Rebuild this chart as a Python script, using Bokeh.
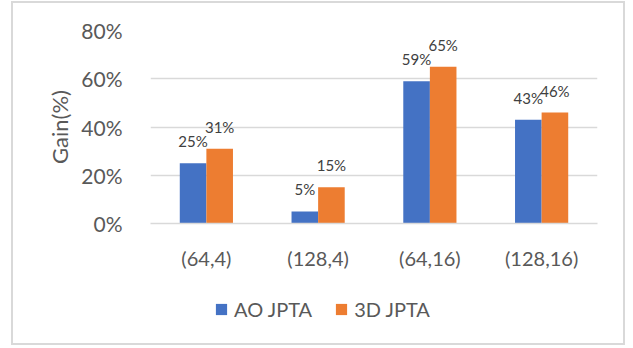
from bokeh.plotting import figure
from bokeh.layouts import column
from bokeh.models import (ColumnDataSource, FactorRange, LabelSet, Legend, LegendItem,
                          PrintfTickFormatter, FixedTicker)
from bokeh.core.properties import value
from bokeh.transform import dodge
from bokeh.embed import file_html
from bokeh.resources import INLINE

categories = ["(64,4)", "(128,4)", "(64,16)", "(128,16)"]
ao_jpta = [25, 5, 59, 43]
jpta_3d = [31, 15, 65, 46]
y_ticks = [0, 20, 40, 60, 80]
series_names = ["AO JPTA", "3D JPTA"]

FONT = "Lato"
BLUE = "#4472C4"
ORANGE = "#ED7D31"
GRID = "#D9D9D9"
TXT = "#595959"

src = ColumnDataSource(dict(
    cat=categories, ao=ao_jpta, d3=jpta_3d,
    ao_lbl=[f"{v}%" for v in ao_jpta], d3_lbl=[f"{v}%" for v in jpta_3d],
))

p = figure(x_range=FactorRange(*categories), y_range=(0, 80),
           width=610, height=285, output_backend="svg", toolbar_location=None,
           min_border_left=137, min_border_right=26, min_border_top=27, min_border_bottom=65)
p.outline_line_color = None
p.background_fill_color = "white"
p.border_fill_color = "white"

w = 0.238
r1 = p.vbar(x=dodge("cat", -0.119, range=p.x_range), top="ao", width=w, source=src,
            fill_color=BLUE, line_color=None)
r2 = p.vbar(x=dodge("cat", 0.119, range=p.x_range), top="d3", width=w, source=src,
            fill_color=ORANGE, line_color=None)

for col, lbl, off in (("ao", "ao_lbl", -0.119), ("d3", "d3_lbl", 0.119)):
    p.add_layout(LabelSet(x=dodge("cat", off, range=p.x_range), y=col, text=lbl, source=src,
                          text_align="center", text_baseline="bottom", y_offset=13,
                          text_font=value(FONT), text_font_size=value("15px"),
                          text_color="#404040"))

p.xgrid.grid_line_color = None
p.ygrid.grid_line_color = GRID
p.ygrid.grid_line_width = 1.3
p.yaxis.ticker = FixedTicker(ticks=y_ticks)
p.yaxis.formatter = PrintfTickFormatter(format="%d%%")
p.yaxis.axis_line_color = None
p.yaxis.major_tick_line_color = None
p.yaxis.minor_tick_line_color = None
p.yaxis.major_label_standoff = 22
p.yaxis.major_label_text_font = FONT
p.yaxis.major_label_text_font_size = "21px"
p.yaxis.major_label_text_color = TXT
p.yaxis.axis_label = "Gain(%)"
p.yaxis.axis_label_text_font = FONT
p.yaxis.axis_label_text_font_style = "normal"
p.yaxis.axis_label_text_font_size = "22px"
p.yaxis.axis_label_text_color = TXT
p.yaxis.axis_label_standoff = 5

p.xaxis.axis_line_color = GRID
p.xaxis.axis_line_width = 1.3
p.xaxis.major_tick_line_color = None
p.xaxis.minor_tick_line_color = None
p.xaxis.major_label_standoff = 16
p.xaxis.major_label_text_font = FONT
p.xaxis.major_label_text_font_size = "20px"
p.xaxis.major_label_text_color = TXT

# legend strip (its frame is aligned with the main plot's frame by the column)
pl = figure(width=610, height=55, x_range=FactorRange(*categories), y_range=(0, 80),
            output_backend="svg", toolbar_location=None,
            min_border_left=137, min_border_right=26, min_border_top=0, min_border_bottom=0)
pl.axis.visible = False
pl.grid.visible = False
pl.outline_line_color = None
pl.border_fill_color = "white"
lr1 = pl.vbar(x="cat", top="ao", width=w, source=src, fill_color=BLUE, line_color=None,
              visible=False)
lr2 = pl.vbar(x="cat", top="d3", width=w, source=src, fill_color=ORANGE, line_color=None,
              visible=False)
legend = Legend(items=[LegendItem(label=series_names[0], renderers=[lr1]),
                       LegendItem(label=series_names[1], renderers=[lr2])],
                orientation="horizontal", location=(64, 22),
                glyph_width=14, glyph_height=14, label_standoff=6, spacing=22,
                padding=0, margin=0, border_line_color=None, background_fill_alpha=0,
                inactive_fill_alpha=0,
                label_text_font=FONT, label_text_font_size="20px", label_text_color=TXT)
pl.add_layout(legend, "center")

layout = column(p, pl, spacing=0)
layout.styles = {"margin-left": "11px", "margin-top": "1px", "border": "2px solid #D9D9D9",
                 "background-color": "white"}

open("out.html", "w").write(file_html(layout, INLINE))
